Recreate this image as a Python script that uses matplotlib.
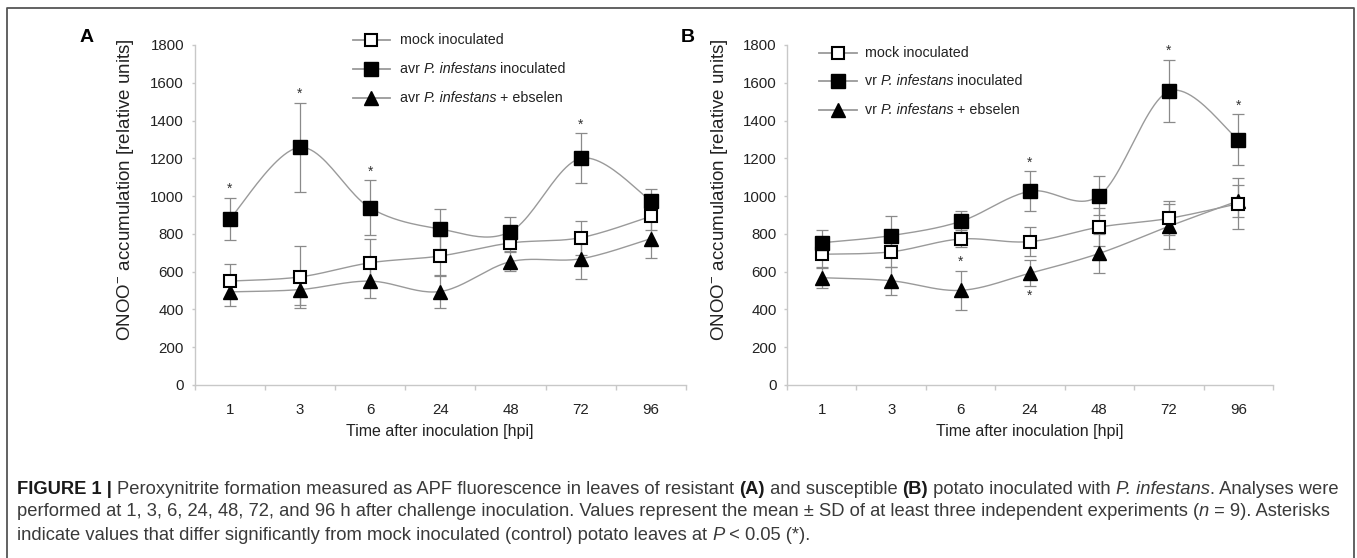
import numpy as np
import matplotlib
matplotlib.use("Agg")
import matplotlib.pyplot as plt
from matplotlib.lines import Line2D
from matplotlib.transforms import IdentityTransform

# ---------------- data ----------------
hpi = ["1", "3", "6", "24", "48", "72", "96"]

mock_A = [550, 572, 647, 683, 752, 780, 893]
mock_A_sd = [88, 165, 125, 105, 45, 90, 70]
avr_A = [878, 1258, 938, 826, 812, 1200, 976]
avr_A_sd = [112, 235, 145, 105, 80, 133, 60]
ebs_A = [493, 505, 550, 495, 653, 668, 775]
ebs_A_sd = [75, 82, 90, 85, 50, 105, 105]

mock_B = [692, 705, 773, 759, 836, 882, 960]
mock_B_sd = [75, 80, 45, 77, 100, 90, 135]
vr_B = [753, 791, 866, 1026, 1003, 1555, 1298]
vr_B_sd = [70, 105, 55, 105, 105, 165, 135]
ebs_B = [568, 552, 501, 592, 697, 840, 975]
ebs_B_sd = [55, 75, 105, 70, 105, 120, 85]

# significance marks: (series key, index, 'above'/'below')
sig_A = [("inf", 0, "above"), ("inf", 1, "above"), ("inf", 2, "above"), ("inf", 5, "above")]
sig_B = [("inf", 3, "above"), ("inf", 5, "above"), ("inf", 6, "above"),
         ("ebs", 2, "above"), ("ebs", 3, "below")]

legend_A = [[("mock inoculated", "normal")],
            [("avr ", "normal"), ("P. infestans", "italic"), (" inoculated", "normal")],
            [("avr ", "normal"), ("P. infestans", "italic"), (" + ebselen", "normal")]]
legend_B = [[("mock inoculated", "normal")],
            [("vr ", "normal"), ("P. infestans", "italic"), (" inoculated", "normal")],
            [("vr ", "normal"), ("P. infestans", "italic"), (" + ebselen", "normal")]]

caption_lines = [
    [("FIGURE 1 | ", "bold"), ("Peroxynitrite formation measured as APF fluorescence in leaves of resistant ", "normal"),
     ("(A)", "bold"), (" and susceptible ", "normal"), ("(B)", "bold"),
     (" potato inoculated with ", "normal"), ("P. infestans", "italic"), (". Analyses were", "normal")],
    [("performed at 1, 3, 6, 24, 48, 72, and 96 h after challenge inoculation. Values represent the mean \u00b1 SD of at least three independent experiments (", "normal"),
     ("n", "italic"), (" = 9). Asterisks", "normal")],
    [("indicate values that differ significantly from mock inoculated (control) potato leaves at ", "normal"),
     ("P", "italic"), (" < 0.05 (*).", "normal")],
]

# ---------------- style ----------------
SANS = ["Liberation Sans", "DejaVu Sans"]
plt.rcParams["font.family"] = SANS
plt.rcParams["mathtext.fontset"] = "custom"
plt.rcParams["mathtext.rm"] = "Liberation Sans"
plt.rcParams["mathtext.it"] = "Liberation Sans:italic"

W, H = 1357, 558
fig = plt.figure(figsize=(W / 100, H / 100), dpi=100)
renderer = fig.canvas.get_renderer()

LINEC = "#9a9a9a"
ERRC = "#8a8a8a"
SPINEC = "#c8c8c8"
TXT = "#222222"


def style_kw(style, size):
    kw = dict(fontsize=size, family=SANS)
    if style == "bold":
        kw["fontweight"] = "bold"
    if style == "italic":
        kw["fontstyle"] = "italic"
    return kw


def seg_width(s, kw):
    t1 = fig.text(0, 0, "|" + s + "|", **kw)
    t2 = fig.text(0, 0, "||", **kw)
    w = t1.get_window_extent(renderer).width - t2.get_window_extent(renderer).width
    t1.remove()
    t2.remove()
    return w


def rich_text(xpx, ypx_from_bottom, segs, size, colors):
    x = xpx
    for s, style in segs:
        kw = style_kw(style, size)
        w = seg_width(s, kw)
        fig.text(x, ypx_from_bottom, s, ha="left", va="center", color=colors.get(style, TXT),
                 transform=IdentityTransform(), **kw)
        x += w


def catmull(xs, ys, n=24):
    P = np.column_stack([xs, ys]).astype(float)
    P = np.vstack([P[0], P, P[-1]])
    out = []
    t = np.linspace(0, 1, n, endpoint=False)[:, None]
    for i in range(1, len(P) - 2):
        p0, p1, p2, p3 = P[i - 1], P[i], P[i + 1], P[i + 2]
        seg = 0.5 * ((2 * p1) + (-p0 + p2) * t + (2 * p0 - 5 * p1 + 4 * p2 - p3) * t ** 2
                     + (-p0 + 3 * p1 - 3 * p2 + p3) * t ** 3)
        out.append(seg)
    out.append(P[-2][None, :])
    out = np.vstack(out)
    return out[:, 0], out[:, 1]


def panel(rect, mock, mock_sd, inf, inf_sd, ebs, ebs_sd, sigs, legend, leg_x, leg_y,
          ylab_x, letter, letter_xy):
    ax = fig.add_axes(rect)
    x = np.arange(len(hpi))
    series = {"mock": (mock, mock_sd), "inf": (inf, inf_sd), "ebs": (ebs, ebs_sd)}
    styles = {"mock": dict(marker="s", mfc="white", mec="black", ms=9, mew=1.5),
              "inf": dict(marker="s", mfc="black", mec="black", ms=9.5, mew=1.0),
              "ebs": dict(marker="^", mfc="black", mec="black", ms=10, mew=1.0)}
    for key in ["ebs", "mock", "inf"]:
        v, sd = series[key]
        ax.errorbar(x, v, yerr=sd, fmt="none", ecolor=ERRC, elinewidth=0.9,
                    capsize=4, capthick=0.9, zorder=2)
    for key in ["ebs", "mock", "inf"]:
        v, sd = series[key]
        sx, sy = catmull(x, v)
        ax.plot(sx, sy, color=LINEC, lw=1.0, zorder=3)
        ax.plot(x, v, ls="none", zorder=4, **styles[key])
    for key, i, pos in sigs:
        v, sd = series[key]
        if pos == "above":
            ax.text(x[i], v[i] + sd[i] + 10, "*", ha="center", va="bottom",
                    fontsize=10, color="#333333")
        else:
            ax.text(x[i], v[i] - sd[i] - 10, "*", ha="center", va="top",
                    fontsize=10, color="#333333")

    ax.set_xlim(-0.5, len(hpi) - 0.5)
    ax.set_ylim(0, 1800)
    ax.set_yticks(np.arange(0, 1801, 200))
    ax.set_xticks(x)
    ax.set_xticklabels(hpi)
    ax.set_xticks(np.arange(-0.5, len(hpi), 1.0), minor=True)
    for s in ["top", "right"]:
        ax.spines[s].set_visible(False)
    for s in ["left", "bottom"]:
        ax.spines[s].set_color(SPINEC)
        ax.spines[s].set_linewidth(1.0)
    ax.tick_params(axis="x", which="major", length=0, pad=13, labelsize=10.8, labelcolor=TXT)
    ax.tick_params(axis="x", which="minor", length=3.5, color=SPINEC, width=1.0)
    ax.tick_params(axis="y", which="major", length=2.5, color=SPINEC, width=1.0, pad=5,
                   labelsize=10.8, labelcolor=TXT)
    ax.set_xlabel("Time after inoculation [hpi]", fontsize=11.5, color=TXT, labelpad=5)
    ax.text(ylab_x, 0.575, "ONOO$^{-}$ accumulation [relative units]", rotation=90,
            ha="center", va="center", transform=ax.transAxes, fontsize=13.5, color=TXT)
    fig.text(letter_xy[0] / W, 1 - letter_xy[1] / H, letter, fontsize=14,
             fontweight="bold", ha="center", va="center", color="black")

    # manual legend
    keys = ["mock", "inf", "ebs"]
    for k, segs, ly in zip(keys, legend, leg_y):
        ax.add_line(Line2D([leg_x[0], leg_x[1]], [ly, ly], color=LINEC, lw=1.3,
                           clip_on=False, zorder=3))
        ax.plot([leg_x[2]], [ly], ls="none", clip_on=False, zorder=4, **styles[k])
        px, py = ax.transData.transform((leg_x[3], ly))
        rich_text(px, py, segs, 10.3, {"normal": TXT, "italic": TXT})
    return ax


axA_rect = [194.5 / W, 1 - 385 / H, (686 - 194.5) / W, 340 / H]
axB_rect = [787 / W, 1 - 385 / H, (1273 - 787) / W, 340 / H]

panel(axA_rect, mock_A, mock_A_sd, avr_A, avr_A_sd, ebs_A, ebs_A_sd, sig_A, legend_A,
      [1.76, 2.29, 2.02, 2.42], [1826, 1672, 1521], -0.141, "A", (87, 37))
panel(axB_rect, mock_B, mock_B_sd, vr_B, vr_B_sd, ebs_B, ebs_B_sd, sig_B, legend_B,
      [-0.04, 0.51, 0.24, 0.62], [1759, 1609, 1458], -0.138, "B", (688, 37))

# ---------------- frame ----------------
fx = [7 / W, 7 / W, 1354 / W, 1354 / W]
fy = [-0.01, 1 - 8 / H, 1 - 8 / H, -0.01]
fig.add_artist(Line2D(fx, fy, color="#555555", lw=1.3, transform=fig.transFigure))

# ---------------- caption ----------------
line_y = [489, 512, 535]
for segs, ly in zip(caption_lines, line_y):
    rich_text(17.0, H - ly, segs, 13.2, {"bold": "#1a1a1a", "normal": "#3a3a3a", "italic": "#3a3a3a"})

fig.savefig("out.png", dpi=100)
